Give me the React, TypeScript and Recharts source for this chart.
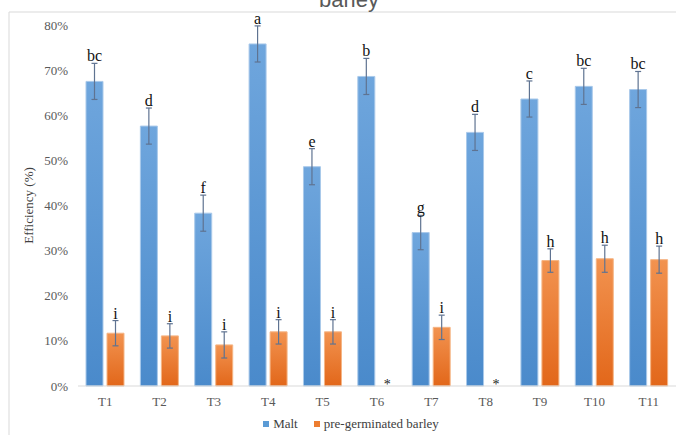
import { BarChart, Bar, XAxis, YAxis, ErrorBar, LabelList, Legend } from 'recharts';

const categories = ['T1', 'T2', 'T3', 'T4', 'T5', 'T6', 'T7', 'T8', 'T9', 'T10', 'T11'];
const maltValues = [67.5, 57.6, 38.3, 75.8, 48.6, 68.6, 34.0, 56.2, 63.6, 66.4, 65.7];
const maltErrors = [4, 4, 4, 4, 4, 4, 3.8, 4, 4, 4, 4];
const maltLetters = ['bc', 'd', 'f', 'a', 'e', 'b', 'g', 'd', 'c', 'bc', 'bc'];
const barleyValues = [11.7, 11.1, 9.1, 12.0, 12.0, 0, 13.0, 0, 27.8, 28.2, 28.0];
const barleyErrors = [2.8, 2.7, 2.9, 2.7, 2.7, 0, 2.7, 0, 2.6, 3, 3];
const barleyLetters = ['i', 'i', 'i', 'i', 'i', '*', 'i', '*', 'h', 'h', 'h'];
const yTicks = [0, 10, 20, 30, 40, 50, 60, 70, 80];

const seriesNames = ['Malt', 'pre-germinated barley'];
const legendColors = ['#5b9bd5', '#ed7d31'];

const data = categories.map((name, i) => ({
  name,
  malt: maltValues[i],
  maltErr: maltErrors[i],
  barley: barleyValues[i],
  barleyErr: barleyErrors[i],
}));

// zero-height bars get no label, so map label index -> category index
const maltIdx = maltValues.map((v, i) => (v ? i : -1)).filter((i) => i >= 0);
const barleyIdx = barleyValues.map((v, i) => (v ? i : -1)).filter((i) => i >= 0);

const serif = '"Liberation Serif", "Times New Roman", serif';
const barGap = 4;

// letter above the error bar; the error length in px comes from the bar's own scale
const makeLetterLabel = (letters: string[], errors: number[], idxMap: number[], partner?: { values: number[]; letters: string[] }) => (props: any) => {
  const { x, y, width, height, value, index } = props;
  const i = idxMap[index];
  const cx = Number(x) + Number(width) / 2;
  const errPx = (errors[i] * Number(height)) / Number(value);
  return (
    <g>
      <text x={cx} y={Number(y) - errPx - 2} textAnchor="middle" fontFamily={serif} fontSize={16} fill="#111">
        {letters[i]}
      </text>
      {partner && !partner.values[i] && (
        <text
          x={cx + Number(width) + barGap}
          y={Number(y) + Number(height) + 3}
          textAnchor="middle"
          fontFamily={serif}
          fontSize={14}
          fill="#222"
        >
          {partner.letters[i]}
        </text>
      )}
    </g>
  );
};

const renderLegend = () => (
  <div
    style={{
      display: 'flex',
      justifyContent: 'center',
      paddingLeft: 26,
      fontFamily: serif,
      fontSize: 13,
      color: '#404040',
    }}
  >
    {seriesNames.map((n, i) => (
      <span key={n} style={{ display: 'flex', alignItems: 'center', marginRight: i === 0 ? 16 : 0 }}>
        <span style={{ width: 6, height: 6, background: legendColors[i], marginRight: 4, display: 'inline-block' }} />
        {n}
      </span>
    ))}
  </div>
);

export default function App() {
  return (
    <div style={{ position: 'absolute', left: 0, top: 0, width: 676, height: 435, background: '#fff', overflow: 'hidden' }}>
      <svg width={676} height={435} style={{ position: 'absolute', left: 0, top: 0 }}>
        <line x1={9} y1={12} x2={676} y2={12} stroke="#d9d9d9" />
        <line x1={9} y1={12} x2={9} y2={435} stroke="#d9d9d9" />
        <text x={349} y={7} textAnchor="middle" fontFamily='"Liberation Sans", Arial, sans-serif' fontSize={22} fill="#595959">
          barley
        </text>
      </svg>
      <div style={{ position: 'absolute', left: 0, top: 0 }}>
        <BarChart
          width={676}
          height={435}
          data={data}
          margin={{ top: 25, right: 0, left: 0, bottom: 3 }}
          barSize={17}
          barGap={barGap}
        >
          <defs>
            <linearGradient id="maltFill" x1="0" y1="0" x2="0" y2="1">
              <stop offset="0%" stopColor="#6fa6dd" />
              <stop offset="100%" stopColor="#4a8acb" />
            </linearGradient>
            <linearGradient id="barleyFill" x1="0" y1="0" x2="0" y2="1">
              <stop offset="0%" stopColor="#f29350" />
              <stop offset="100%" stopColor="#e2671a" />
            </linearGradient>
          </defs>
          <XAxis
            dataKey="name"
            tickLine={false}
            axisLine={{ stroke: '#d9d9d9' }}
            tickMargin={5}
            tick={{ fontFamily: serif, fontSize: 13, fill: '#595959' }}
            height={30}
          />
          <YAxis
            domain={[0, 80]}
            ticks={yTicks}
            tickFormatter={(v) => `${v}%`}
            axisLine={false}
            tickLine={false}
            width={78}
            tickMargin={4}
            tick={{ fontFamily: serif, fontSize: 13, fill: '#595959' }}
            label={{
              content: (p: any) => {
                const vb = p.viewBox || {};
                const cy = (vb.y ?? 25) + (vb.height ?? 359) / 2;
                return (
                  <text
                    x={33}
                    y={cy}
                    transform={`rotate(-90, 33, ${cy})`}
                    textAnchor="middle"
                    fontFamily={serif}
                    fontSize={13}
                    fill="#404040"
                  >
                    Efficiency (%)
                  </text>
                );
              },
            }}
          />
          <Legend verticalAlign="bottom" content={renderLegend} wrapperStyle={{ left: 0, width: 676, bottom: 3 }} />
          <Bar dataKey="malt" name={seriesNames[0]} fill="url(#maltFill)" stroke="#a9c9ea" strokeWidth={1} isAnimationActive={false}>
            <ErrorBar dataKey="maltErr" width={3} stroke="#5f7391" strokeWidth={1.2} direction="y" />
            <LabelList
              dataKey="malt"
              content={makeLetterLabel(maltLetters, maltErrors, maltIdx, { values: barleyValues, letters: barleyLetters })}
            />
          </Bar>
          <Bar dataKey="barley" name={seriesNames[1]} fill="url(#barleyFill)" stroke="#f5b585" strokeWidth={1} isAnimationActive={false}>
            <ErrorBar dataKey="barleyErr" width={3} stroke="#5f7391" strokeWidth={1.2} direction="y" />
            <LabelList dataKey="barley" content={makeLetterLabel(barleyLetters, barleyErrors, barleyIdx)} />
          </Bar>
        </BarChart>
      </div>
    </div>
  );
}
